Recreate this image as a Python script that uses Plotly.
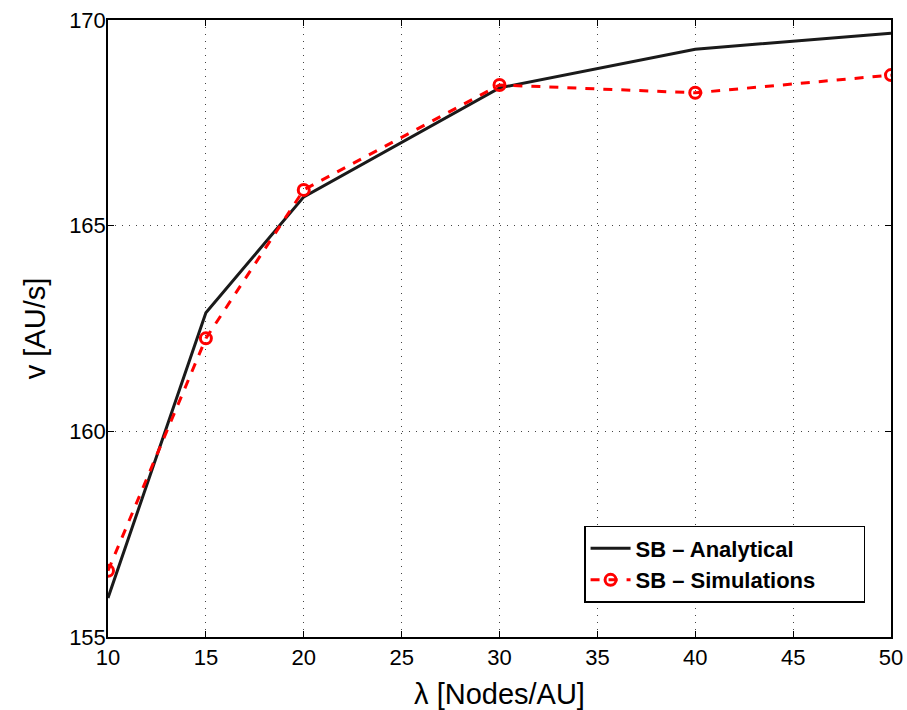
import plotly.graph_objects as go

lam = [10, 15, 20, 30, 40, 50]
v_analytical = [155.95, 162.88, 165.70, 168.35, 169.29, 169.68]
v_simulations = [156.61, 162.26, 165.87, 168.42, 168.23, 168.66]

x_ticks = [10, 15, 20, 25, 30, 35, 40, 45, 50]
y_ticks = [155, 160, 165, 170]

FONT = "Liberation Sans, Arial, sans-serif"
PAD = "\u00a0" * 7

fig = go.Figure()
fig.add_trace(go.Scatter(
    x=lam, y=v_analytical, mode="lines", name="<b>SB \u2013 Analytical</b>" + PAD,
    line=dict(color="#1a1a1a", width=3)))
fig.add_trace(go.Scatter(
    x=lam, y=v_simulations, mode="lines+markers", name="<b>SB \u2013 Simulations</b>" + PAD,
    line=dict(color="#ff0000", width=3, dash="dash"),
    marker=dict(symbol="circle-open", size=11, color="#ff0000", line=dict(width=3, color="#ff0000"))))

axis_common = dict(
    showline=True, linecolor="black", linewidth=1.5, mirror="ticks",
    ticks="inside", ticklen=6, tickcolor="black",
    showgrid=True, gridcolor="#444444", griddash="1px,6px", gridwidth=1,
    zeroline=False, automargin=False,
    tickfont=dict(family=FONT, size=22, color="black"),
)

fig.update_xaxes(range=[10, 50], tickvals=x_ticks, ticklabelstandoff=0,
                 title=dict(text="\u03bb [Nodes/AU]", font=dict(family=FONT, size=29, color="black")),
                 **axis_common)
fig.update_yaxes(range=[155, 170], tickvals=y_ticks, ticklabelstandoff=-4,
                 title=dict(text="v [AU/s]", font=dict(family=FONT, size=29, color="black")),
                 **axis_common)

fig.update_layout(
    width=907, height=710,
    margin=dict(l=108, r=16, t=20, b=73, autoexpand=False),
    plot_bgcolor="white", paper_bgcolor="white",
    font=dict(family=FONT, color="black"),
    legend=dict(x=0.608, y=0.18, xanchor="left", yanchor="top",
                bordercolor="black", borderwidth=1.5, bgcolor="white",
                font=dict(size=22, color="black"), tracegroupgap=0,
                itemwidth=40),
    showlegend=True,
)

fig.write_html("out.html")
